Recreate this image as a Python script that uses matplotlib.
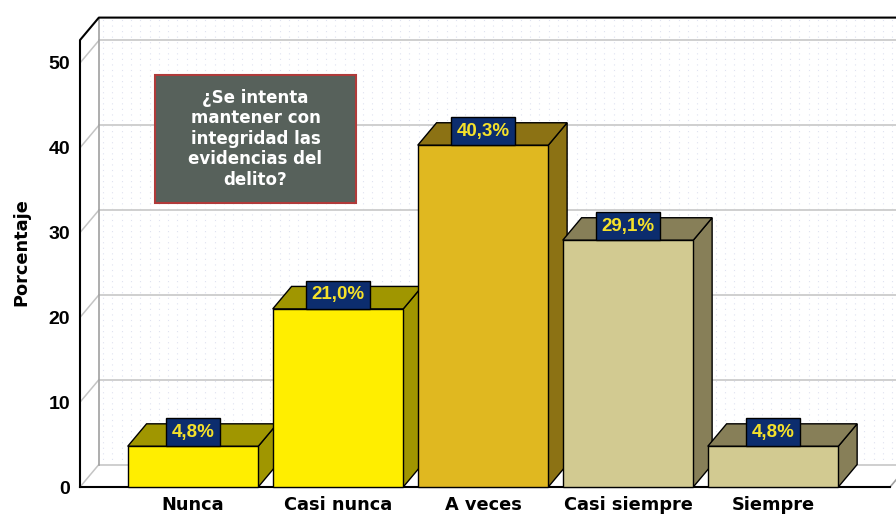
import numpy as np
import matplotlib
matplotlib.use("Agg")
import matplotlib.pyplot as plt
from matplotlib.patches import Polygon, Rectangle

# datos del grafico
categorias = ["Nunca", "Casi nunca", "A veces", "Casi siempre", "Siempre"]
porcentajes = [4.8, 21.0, 40.3, 29.1, 4.8]
etiquetas = ["4,8%", "21,0%", "40,3%", "29,1%", "4,8%"]
ticks_y = [0, 10, 20, 30, 40, 50]

# colores (frente, lado/arriba)
color_frente = ["#ffee00", "#ffee00", "#e0b820", "#d2ca91", "#d2ca91"]
color_lado = ["#a09600", "#a09600", "#8c7214", "#877f58", "#877f58"]

fuente_num = "Liberation Sans"

# geometria 3D
DX, DY = 0.13, 2.65
ANCHO = 0.9
XMIN, XMAX = -0.779, 4.807
YTOP = 52.7

fig = plt.figure(figsize=(8.96, 5.17), dpi=100)
ax = fig.add_axes([80 / 896, 30 / 517, (896 - 80) / 896, 470 / 517])
ax.set_xlim(XMIN, 4.848)
ax.set_ylim(0, 55.42)
for s in ax.spines.values():
    s.set_visible(False)
ax.patch.set_visible(False)

# pared del fondo con patron punteado
ax.add_patch(Rectangle((XMIN + DX, DY), XMAX - XMIN + 0.5, YTOP, facecolor="white",
                       edgecolor="none", zorder=0, clip_on=False))
for xp in np.arange(XMIN + DX + 0.03, XMAX + 0.3, 0.064):
    ax.plot([xp, xp], [DY, YTOP + DY], color="#dfe2f0", lw=0.8,
            ls=(0, (1, 4)), zorder=0.5, clip_on=False)

# pared izquierda y suelo
ax.add_patch(Polygon([(XMIN, 0), (XMIN, YTOP), (XMIN + DX, YTOP + DY), (XMIN + DX, DY)],
                     closed=True, facecolor="white", edgecolor="none", zorder=0.6, clip_on=False))
ax.add_patch(Polygon([(XMIN, 0), (XMAX, 0), (XMAX + DX, DY), (XMIN + DX, DY)],
                     closed=True, facecolor="white", edgecolor="none", zorder=0.6, clip_on=False))

# lineas de cuadricula
for v in ticks_y:
    ax.plot([XMIN, XMIN + DX], [v, v + DY], color="#c4c4c4", lw=1.1, zorder=1, clip_on=False)
    ax.plot([XMIN + DX, XMAX + 0.5], [v + DY, v + DY], color="#cccccc", lw=1.3, zorder=1,
            clip_on=False)
ax.plot([XMAX, XMAX + DX], [0, DY], color="#a0a0a0", lw=1.2, zorder=1, clip_on=False)
ax.plot([XMIN + DX, XMIN + DX], [DY, YTOP + DY], color="#a0a0a0", lw=1.2, zorder=1, clip_on=False)
ax.plot([XMIN, XMIN, XMIN + DX, XMAX + 0.5], [0, YTOP, YTOP + DY, YTOP + DY],
        color="black", lw=1.5, zorder=1.2, clip_on=False)
ax.plot([XMIN, XMAX], [0, 0], color="black", lw=1.5, zorder=1.2, clip_on=False)

# barras 3D
for i, v in enumerate(porcentajes):
    x0, x1 = i - ANCHO / 2, i + ANCHO / 2
    z = 3 + i
    lado = Polygon([(x1, 0), (x1, v), (x1 + DX, v + DY), (x1 + DX, DY)], closed=True,
                   facecolor=color_lado[i], edgecolor="black", lw=1, zorder=z, clip_on=False)
    arriba = Polygon([(x0, v), (x1, v), (x1 + DX, v + DY), (x0 + DX, v + DY)], closed=True,
                     facecolor=color_lado[i], edgecolor="black", lw=1, zorder=z, clip_on=False)
    frente = Rectangle((x0, 0), ANCHO, v, facecolor=color_frente[i], edgecolor="black",
                       lw=1, zorder=z + 0.1, clip_on=False)
    ax.add_patch(lado)
    ax.add_patch(arriba)
    ax.add_patch(frente)
    ax.annotate(etiquetas[i], xy=(i, v), xytext=(0, 4.0), textcoords="offset points",
                ha="center", va="bottom", fontsize=13.5, fontweight="bold",
                family=fuente_num, color="#f5e12a", zorder=20,
                bbox=dict(boxstyle="square,pad=0.3", facecolor="#0c2d6e",
                          edgecolor="black", lw=1))

# ejes
ax.set_xticks(range(len(categorias)))
ax.set_xticklabels(categorias, fontsize=12.8, fontweight="bold", family="DejaVu Sans")
ax.set_yticks(ticks_y)
ax.set_yticklabels([str(t) for t in ticks_y], fontsize=14, fontweight="bold",
                   family=fuente_num)
ax.tick_params(axis="both", length=0)
ax.tick_params(axis="x", pad=6.5)
ax.tick_params(axis="y", pad=7)
ax.set_ylabel("Porcentaje", fontsize=12.8, fontweight="bold", family="DejaVu Sans",
              labelpad=13)

# cuadro con la pregunta
ax.add_patch(Rectangle((-0.262, 33.5), 1.386, 15.1, facecolor="#57615b",
                       edgecolor="#b03a3a", lw=1.5, zorder=15))
ax.text(0.431, 41.05, "¿Se intenta\nmantener con\nintegridad las\nevidencias del\ndelito?",
        ha="center", va="center", color="white", fontsize=12, fontweight="bold",
        family="DejaVu Sans", linespacing=1.17, zorder=16)

fig.savefig("out.png", dpi=100)
